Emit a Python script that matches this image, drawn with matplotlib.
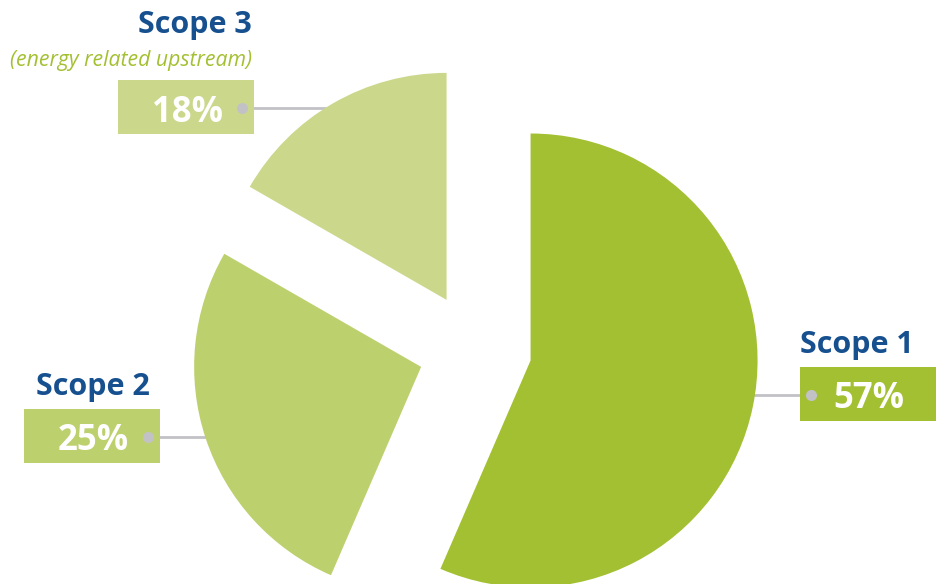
import numpy as np
import matplotlib
matplotlib.use("Agg")
import matplotlib.pyplot as plt
from matplotlib.patches import Rectangle

plt.rcParams['font.family'] = ['Open Sans', 'DejaVu Sans']

# data
labels = ['Scope 1', 'Scope 2', 'Scope 3']
pct_labels = ['57%', '25%', '18%']
shares = [56.5, 26.8, 16.7]
subtitle = '(energy related upstream)'
colors = ['#a3c032', '#bdd06e', '#cbd88c']
explode = [0.25, 0.25, 0.25]

navy = '#16508f'
grey = '#c2c2c6'

W, H = 936, 584
R = 227
fig = plt.figure(figsize=(W / 100, H / 100), dpi=100)
ax = fig.add_axes([0, 0, 1, 1])

# pie in pixel units (explode in matplotlib is absolute, so scale by radius)
wedges, _ = ax.pie(shares, colors=colors, explode=[e * R for e in explode],
                   startangle=90, counterclock=False, radius=R,
                   center=(475, H - 349), frame=True,
                   wedgeprops=dict(linewidth=0, zorder=3))
ax.set_xlim(0, W)
ax.set_ylim(0, H)
ax.set_aspect('equal')
ax.axis('off')

def py(y):
    # pixel row from top -> data y
    return H - y

# box (left, top, width, height), percent text centre x, dot x, title (x, y, ha)
layout = {
    'Scope 1': dict(box=(800, 367, 136, 54), tx=869, dot=811, title=(800, 342, 'left')),
    'Scope 2': dict(box=(24, 409, 136, 54), tx=93, dot=148, title=(150, 383, 'right')),
    'Scope 3': dict(box=(118, 80, 136, 54), tx=188, dot=242, title=(252, 22, 'right')),
}

for w, lab, pct, col in zip(wedges, labels, pct_labels, colors):
    L = layout[lab]
    bx, by, bw, bh = L['box']
    ax.add_patch(Rectangle((bx, py(by + bh)), bw, bh, facecolor=col,
                           edgecolor='none', zorder=2))
    yc = py(by + bh / 2 + 1)
    ax.text(L['tx'], yc, pct, color='white', fontsize=25,
            fontweight='bold', ha='center', va='center_baseline', zorder=5)
    tx, ty, ha = L['title']
    ax.text(tx, py(ty), lab, color=navy, fontsize=22, fontweight='bold',
            ha=ha, va='center_baseline', zorder=5)

    # leader line from the dot to the wedge edge
    cx, cy = w.center
    dx = np.sqrt(w.r ** 2 - (yc - cy) ** 2)
    xend = cx - dx + 5 if L['dot'] < cx else cx + dx - 5
    ax.plot([L['dot'], xend], [yc, yc], color=grey, lw=2,
            solid_capstyle='butt', zorder=1.5)
    ax.plot([L['dot']], [yc], 'o', color=grey, ms=8, mew=0, zorder=4)

ax.text(252, py(58), subtitle, color='#a3c032', fontsize=15.3,
        fontstyle='italic', ha='right', va='center_baseline', zorder=5)

fig.savefig('out.png', dpi=100, facecolor='white')
